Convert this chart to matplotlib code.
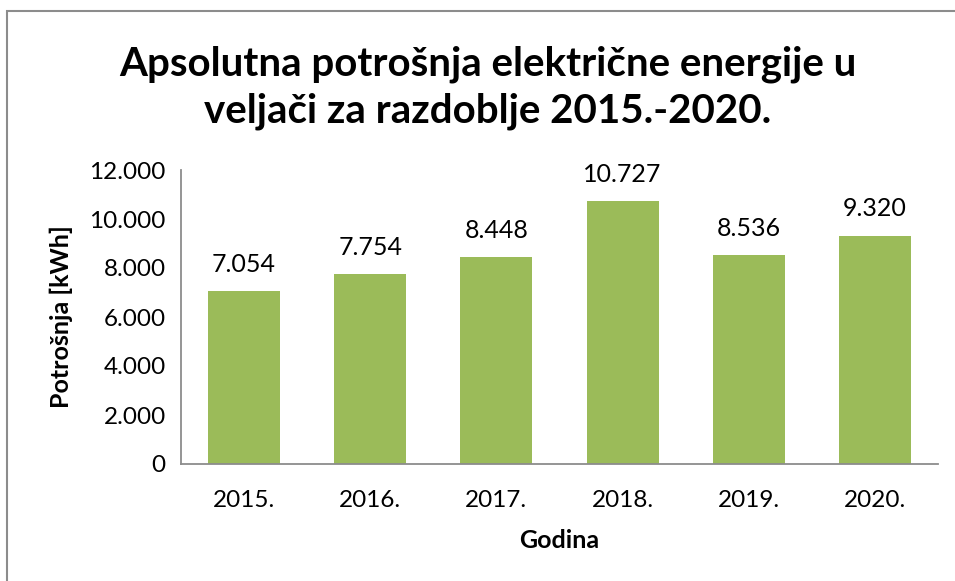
import matplotlib
matplotlib.use("Agg")
import matplotlib.pyplot as plt
from matplotlib.patches import Rectangle
from matplotlib.ticker import FuncFormatter, MultipleLocator

years = ["2015.", "2016.", "2017.", "2018.", "2019.", "2020."]
values = [7054, 7754, 8448, 10727, 8536, 9320]
title = "Apsolutna potrošnja električne energije u\nveljači za razdoblje 2015.-2020."
xlabel = "Godina"
ylabel = "Potrošnja [kWh]"

def fmt(v, pos=None):
    return f"{int(v):,}".replace(",", ".")

plt.rcParams['font.family'] = ['Lato', 'DejaVu Sans']
W, H = 955, 581
fig = plt.figure(figsize=(W / 100, H / 100), dpi=100)
fig.patch.set_facecolor("white")

# chart-area border (only top and left visible in the reference)
fig.add_artist(Rectangle((7 / W, -0.1), 1.2, (H - 11) / H + 0.1, transform=fig.transFigure,
                         fill=False, edgecolor="#8c8c8c", linewidth=1.5))

ax = fig.add_axes([181 / W, (H - 464) / H, (938 - 181) / W, (464 - 170) / H])
x = range(len(years))
bars = ax.bar(x, values, width=0.57, color="#9BBB59", zorder=2)
ax.set_xlim(-0.5, len(years) - 0.5)
ax.set_ylim(0, 12000)
ax.yaxis.set_major_locator(MultipleLocator(2000))
ax.yaxis.set_major_formatter(FuncFormatter(fmt))
ax.set_xticks(list(x))
ax.set_xticklabels(years)
for s in ["top", "right"]:
    ax.spines[s].set_visible(False)
for s in ["left", "bottom"]:
    ax.spines[s].set_color("#8c8c8c")
    ax.spines[s].set_linewidth(1.3)
ax.tick_params(axis="both", length=0, labelsize=17.5, colors="black")
ax.tick_params(axis="x", pad=19)
ax.tick_params(axis="y", pad=11)

for xi, v in zip(x, values):
    ax.annotate(fmt(v), (xi, v), xytext=(0, 11), textcoords="offset points",
                ha="center", va="bottom", fontsize=18)

ax.set_xlabel(xlabel, fontsize=18, fontweight="bold", labelpad=13)
ax.set_ylabel(ylabel, fontsize=18, fontweight="bold", labelpad=12)

fig.text(488 / W, 1 - 88 / H, title, ha="center", va="center", fontsize=29,
         fontweight="bold", linespacing=1.33)

fig.savefig("out.png", dpi=100)
